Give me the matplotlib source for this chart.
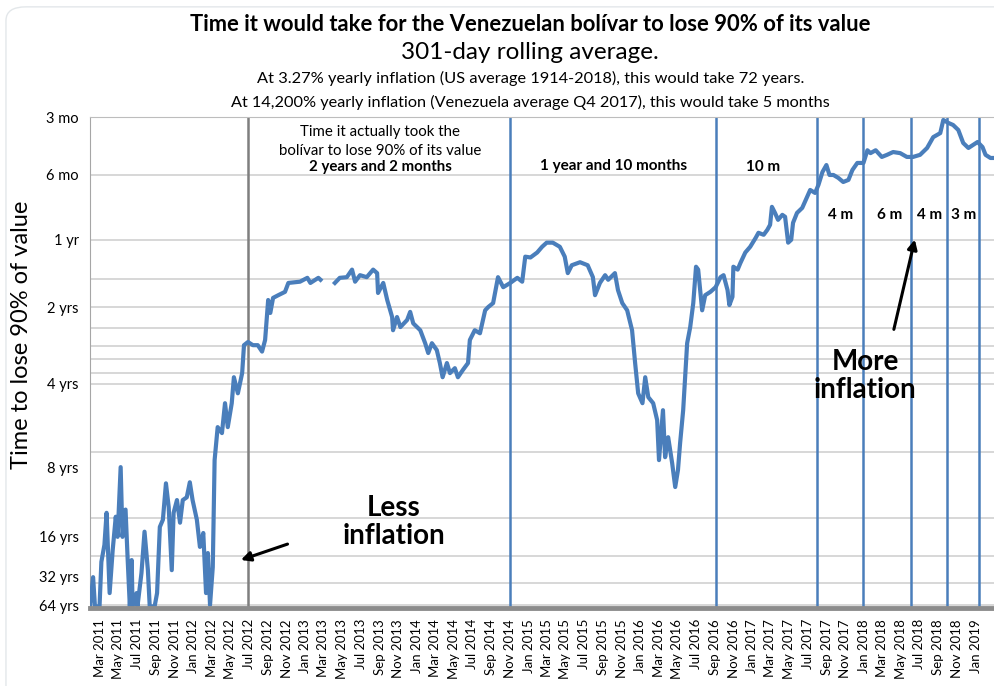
import numpy as np
import pandas as pd
import matplotlib
matplotlib.use('Agg')
import matplotlib.pyplot as plt
import matplotlib.dates as mdates
from matplotlib.patches import FancyBboxPatch

plt.rcParams['font.family'] = ['Lato', 'DejaVu Sans']

# time for the bolivar to lose 90% of its value, 301-day rolling average (years)
dates = [
    '2011-01-29', '2011-02-08', '2011-02-14', '2011-03-01', '2011-03-07', '2011-03-17', '2011-03-24',
    '2011-04-03', '2011-04-13', '2011-04-23', '2011-04-29', '2011-05-09', '2011-05-15', '2011-05-25',
    '2011-06-01', '2011-06-08', '2011-06-14', '2011-06-17', '2011-06-30', '2011-07-03', '2011-07-16',
    '2011-07-26', '2011-08-06', '2011-08-12', '2011-08-28', '2011-09-05', '2011-09-14', '2011-09-24',
    '2011-10-04', '2011-10-13', '2011-10-23', '2011-10-29', '2011-11-09', '2011-11-19', '2011-11-28',
    '2011-12-11', '2011-12-21', '2011-12-30', '2012-01-13', '2012-01-23', '2012-02-03', '2012-02-12',
    '2012-02-18', '2012-02-25', '2012-03-05', '2012-03-11', '2012-03-21', '2012-04-04', '2012-04-14',
    '2012-04-23', '2012-05-06', '2012-05-13', '2012-05-26', '2012-06-09', '2012-06-15', '2012-06-28',
    '2012-07-14', '2012-07-30', '2012-08-13', '2012-08-23', '2012-09-02', '2012-09-09', '2012-09-18',
    '2012-10-05', '2012-10-27', '2012-11-07', '2012-12-15', '2013-01-08', '2013-01-18', '2013-02-13',
    '2013-02-20', '2013-03-15', '2013-04-08', '2013-04-24', '2013-05-17', '2013-06-03', '2013-06-13',
    '2013-06-29', '2013-07-21', '2013-08-11', '2013-08-24', '2013-08-27', '2013-09-13', '2013-09-26',
    '2013-10-12', '2013-10-15', '2013-10-28', '2013-11-08', '2013-11-30', '2013-12-10', '2013-12-20',
    '2014-01-12', '2014-01-28', '2014-02-07', '2014-02-19', '2014-03-07', '2014-03-17', '2014-03-26',
    '2014-04-09', '2014-04-19', '2014-05-05', '2014-05-15', '2014-05-31', '2014-06-17', '2014-06-23',
    '2014-07-09', '2014-07-26', '2014-08-12', '2014-08-22', '2014-09-07', '2014-09-23', '2014-10-10',
    '2014-11-02', '2014-11-25', '2014-12-11', '2014-12-21', '2015-01-07', '2015-01-29', '2015-02-14',
    '2015-03-01', '2015-03-21', '2015-04-13', '2015-04-29', '2015-05-09', '2015-05-22', '2015-06-18',
    '2015-07-13', '2015-07-30', '2015-08-06', '2015-08-22', '2015-09-08', '2015-09-18', '2015-10-10',
    '2015-10-20', '2015-11-03', '2015-11-19', '2015-12-05', '2015-12-15', '2015-12-25', '2016-01-08',
    '2016-01-17', '2016-01-27', '2016-02-12', '2016-02-25', '2016-03-02', '2016-03-15', '2016-03-22',
    '2016-04-01', '2016-04-14', '2016-04-24', '2016-05-03', '2016-05-10', '2016-05-20', '2016-06-02',
    '2016-06-12', '2016-06-22', '2016-07-01', '2016-07-08', '2016-07-21', '2016-07-31', '2016-08-17',
    '2016-09-03', '2016-09-19', '2016-09-29', '2016-10-12', '2016-10-18', '2016-10-28', '2016-10-31',
    '2016-11-14', '2016-11-23', '2016-12-09', '2016-12-25', '2017-01-12', '2017-01-21', '2017-02-07',
    '2017-02-19', '2017-02-28', '2017-03-06', '2017-03-16', '2017-03-26', '2017-04-09', '2017-04-18',
    '2017-04-28', '2017-05-08', '2017-05-14', '2017-05-27', '2017-06-13', '2017-06-29', '2017-07-09',
    '2017-07-25', '2017-08-05', '2017-08-18', '2017-08-31', '2017-09-10', '2017-09-23', '2017-10-09',
    '2017-10-25', '2017-11-11', '2017-11-24', '2017-12-10', '2017-12-30', '2018-01-12', '2018-01-22',
    '2018-02-08', '2018-02-28', '2018-03-17', '2018-04-06', '2018-04-29', '2018-05-21', '2018-06-10',
    '2018-07-03', '2018-07-26', '2018-08-15', '2018-09-07', '2018-09-17', '2018-10-03', '2018-10-19',
    '2018-11-05', '2018-11-21', '2018-12-08', '2019-01-07', '2019-01-23', '2019-02-02', '2019-02-18',
    '2019-02-28',
]
years = [
    66, 32.8, 66, 66, 24.9, 18.4, 12.6,
    48.0, 20.2, 13.1, 16, 8.0, 16, 12.2,
    24.1, 66, 24.1, 66, 48.0, 66, 30.3,
    15.2, 28.8, 66, 66, 48.0, 14.5, 13.5,
    9.4, 11.9, 28.8, 12.6, 11.1, 13.9, 11.1,
    10.8, 9.3, 11.1, 13.5, 19.1, 15.4, 48.0,
    21.3, 64, 27.3, 7.55, 5.75, 6.04, 4.72,
    5.75, 4.72, 3.79, 4.35, 3.65, 2.83, 2.75,
    2.83, 2.83, 3.0, 2.70, 1.86, 2.11, 1.82,
    1.77, 1.71, 1.56, 1.54, 1.48, 1.56, 1.48,
    1.51, np.nan, 1.56, 1.48, 1.47, 1.36, 1.54,
    1.44, 1.47, 1.36, 1.41, 1.73, 1.56, 1.86,
    2.19, 2.47, 2.19, 2.40, 2.25, 2.09, 2.32,
    2.47, 2.78, 3.04, 2.78, 2.96, 3.33, 3.79,
    3.33, 3.65, 3.49, 3.79, 3.55, 3.33, 2.70,
    2.47, 2.54, 2.06, 2.0, 1.92, 1.47, 1.63,
    1.56, 1.48, 1.54, 1.19, 1.20, 1.14, 1.075,
    1.03, 1.03, 1.075, 1.19, 1.41, 1.30, 1.26,
    1.30, 1.47, 1.77, 1.56, 1.44, 1.51, 1.41,
    1.68, 1.92, 2.06, 2.47, 3.33, 4.35, 4.72,
    3.79, 4.49, 4.72, 5.43, 7.55, 5.0, 7.37,
    6.25, 7.74, 9.75, 8.24, 6.56, 5.0, 2.78,
    2.40, 1.92, 1.32, 1.36, 2.06, 1.77, 1.71,
    1.63, 1.47, 1.44, 1.68, 1.96, 1.80, 1.32,
    1.36, 1.27, 1.14, 1.075, 0.979, 0.928, 0.948,
    0.899, 0.852, 0.703, 0.750, 0.808, 0.766, 0.782,
    1.03, 1.0, 0.834, 0.750, 0.711, 0.632, 0.587,
    0.606, 0.556, 0.483, 0.444, 0.5, 0.5, 0.516,
    0.539, 0.527, 0.471, 0.433, 0.433, 0.372, 0.385,
    0.372, 0.403, 0.393, 0.380, 0.385, 0.403, 0.403,
    0.393, 0.362, 0.318, 0.303, 0.259, 0.268, 0.275,
    0.292, 0.341, 0.362, 0.337, 0.358, 0.393, 0.408,
    0.408,
]

# boundaries of the periods in which the bolivar actually lost 90%
period_starts = ['2012-06-27', '2014-11-02', '2016-09-03', '2017-08-01',
                 '2017-12-30', '2018-06-04', '2018-09-30', '2019-01-13']

tick_years = [0.25, 0.5, 1, 2, 4, 8, 16, 32, 64]
tick_labels = ['3 mo', '6 mo', '1 yr', '2 yrs', '4 yrs', '8 yrs', '16 yrs', '32 yrs', '64 yrs']
grid_years = [0.5, 1, 1.5, 2, 2.42, 2.85, 3.21, 3.65, 4.03, 7.07, 13.3, 22.4, 37.8, 64]

# the original axis is not evenly spaced: how far down (0 top, 1 bottom) each label sits
label_depth = [0, 0.118, 0.25, 0.387, 0.542, 0.713, 0.855, 0.935, 0.994]

ext_log = np.concatenate([[-3], np.log2(tick_years), [7]])
ext_depth = np.concatenate([[-0.118], label_depth, [1.053]])


def fwd(t):
    t = np.maximum(np.asarray(t, dtype=float), 1e-3)
    return np.interp(np.log2(t), ext_log, ext_depth)


def inv(d):
    return 2.0 ** np.interp(np.asarray(d, dtype=float), ext_depth, ext_log)


x = pd.to_datetime(dates)
blue = '#4a7ebb'

fig = plt.figure(figsize=(9.95, 6.86), dpi=100)
ax = fig.add_axes([0.0905, 0.1137, 0.908, 0.7157])

ax.plot(x, years, color=blue, lw=3.0, solid_joinstyle='round', zorder=3)

ax.set_yscale('function', functions=(fwd, inv))
ax.set_ylim(68.6, 0.25)
ax.set_xlim(pd.Timestamp('2011-01-29'), pd.Timestamp('2019-02-28'))

ax.set_yticks(tick_years)
ax.set_yticklabels(tick_labels)
ax.set_yticks(grid_years, minor=True)
ax.yaxis.remove_overlapping_locs = False
ax.grid(which='minor', axis='y', color='#d4d4d4', lw=1.3, zorder=0)
ax.tick_params(axis='y', which='both', length=0, labelsize=10.5, pad=8)

ax.xaxis.set_major_locator(mdates.MonthLocator(bymonth=[1, 3, 5, 7, 9, 11]))
ax.xaxis.set_major_formatter(mdates.DateFormatter('%b %Y'))
ax.tick_params(axis='x', length=0, labelsize=9.5, labelrotation=90, pad=8)

for i, d in enumerate(period_starts):
    ax.axvline(pd.Timestamp(d), color='#7f7f7f' if i == 0 else blue, lw=1.8, zorder=2)

ax.spines['right'].set_visible(False)
ax.spines['left'].set_color('#a6a6a6')
ax.spines['top'].set_color('#bdbdbd')
ax.spines['bottom'].set_color('#8c8c8c')
ax.spines['bottom'].set_linewidth(3.5)
ax.spines['bottom'].set_zorder(4)

# labels inside the chart
ax.text(0.321, 0.969, 'Time it actually took the', transform=ax.transAxes,
        ha='center', va='center', fontsize=10.8)
ax.text(0.321, 0.931, 'bolívar to lose 90% of its value', transform=ax.transAxes,
        ha='center', va='center', fontsize=10.8)
ax.text(0.321, 0.898, '2 years and 2 months', transform=ax.transAxes,
        ha='center', va='center', fontsize=10.8, fontweight='bold')
ax.text(0.580, 0.900, '1 year and 10 months', transform=ax.transAxes,
        ha='center', va='center', fontsize=11, fontweight='bold')
ax.text(0.745, 0.898, '10 m', transform=ax.transAxes,
        ha='center', va='center', fontsize=11, fontweight='bold')
for xf, lab in zip([0.831, 0.885, 0.929, 0.967], ['4 m', '6 m', '4 m', '3 m']):
    ax.text(xf, 0.800, lab, transform=ax.transAxes,
            ha='center', va='center', fontsize=11, fontweight='bold')

ax.text(0.336, 0.175, 'Less\ninflation', transform=ax.transAxes, ha='center', va='center',
        fontsize=20, fontweight='bold', linespacing=1.1)
ax.annotate('', xy=(0.164, 0.096), xytext=(0.2215, 0.132), xycoords='axes fraction',
            arrowprops=dict(arrowstyle='-|>', color='black', lw=2.2, mutation_scale=14))
ax.text(0.858, 0.4725, 'More\ninflation', transform=ax.transAxes, ha='center', va='center',
        fontsize=20, fontweight='bold', linespacing=1.1)
ax.annotate('', xy=(0.9136, 0.756), xytext=(0.889, 0.562), xycoords='axes fraction',
            arrowprops=dict(arrowstyle='-|>', color='black', lw=2.2, mutation_scale=14))

fig.text(0.022, 0.512, 'Time to lose 90% of value', rotation=90, ha='center', va='center', fontsize=17)

fig.text(0.533, 0.9636, 'Time it would take for the Venezuelan bolívar to lose 90% of its value',
         ha='center', va='center', fontsize=15.8, fontweight='bold')
fig.text(0.533, 0.924, '301-day rolling average.', ha='center', va='center', fontsize=17.5)
fig.text(0.533, 0.886, 'At 3.27% yearly inflation (US average 1914-2018), this would take 72 years.',
         ha='center', va='center', fontsize=11.8)
fig.text(0.533, 0.851, 'At 14,200% yearly inflation (Venezuela average Q4 2017), this would take 5 months',
         ha='center', va='center', fontsize=11.7)

fig.patches.append(FancyBboxPatch((0.006, -0.05), 1.05, 1.04, boxstyle='round,pad=0,rounding_size=0.02',
                                  transform=fig.transFigure, fill=False, edgecolor='#e3e7ea', lw=1))

fig.savefig('out.png', dpi=100)
